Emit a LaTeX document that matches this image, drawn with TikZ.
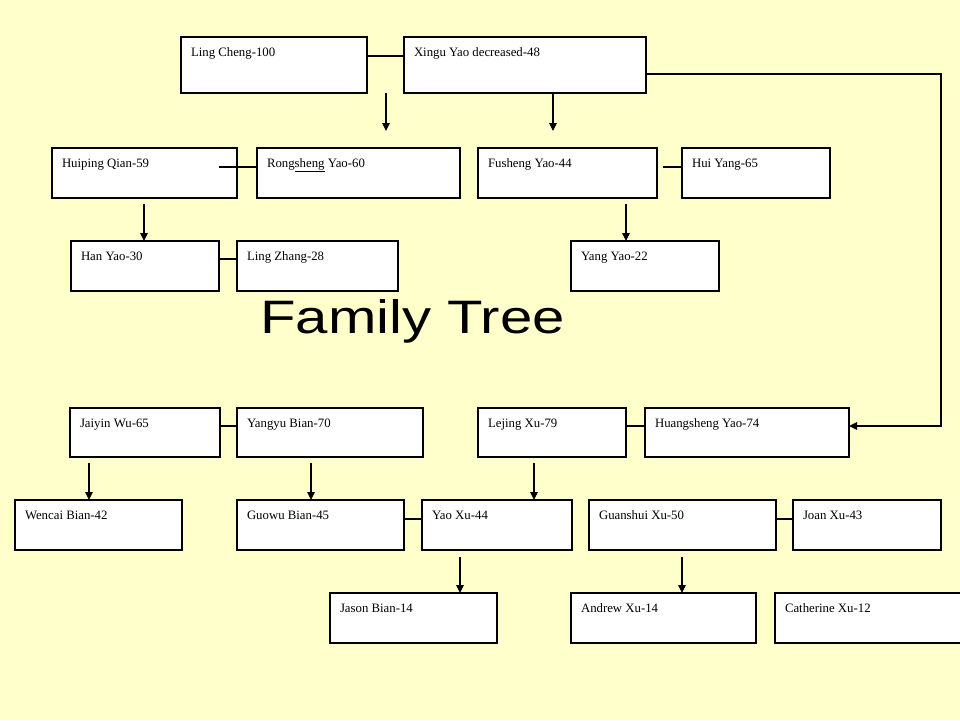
\documentclass[tikz,border=0pt]{standalone}
\usepackage{fontspec}
\setmainfont{Liberation Serif}
\newfontfamily\titlefont{Liberation Sans}
\usetikzlibrary{arrows.meta}
\definecolor{bgyellow}{HTML}{FFFFCC}
\newcommand{\bx}[3]{\parbox[t][#2pt][t]{#1pt}{\fontsize{12.8}{14}\selectfont\hspace*{10pt}\rule{0pt}{19pt}#3}}
\tikzset{
  person/.style={draw=black, fill=white, line width=1.15pt, anchor=north west, inner sep=0pt, outer sep=0pt},
  link/.style={draw=black, line width=1.15pt},
  child/.style={draw=black, line width=1.15pt, -{Triangle[length=8pt,width=7.5pt]}}
}
\begin{document}
\begin{tikzpicture}[x=1pt,y=-1pt]
\fill[bgyellow] (0,0) rectangle (960,720);
\useasboundingbox (0,0) rectangle (960,720);

% row 1
\node[person] (lc) at (181,37) {\bx{186}{56}{Ling Cheng-100}};
\node[person] (xy) at (404,37) {\bx{242}{56}{Xingu Yao decreased-48}};
% row 2
\node[person] (hq) at (52,148) {\bx{185}{50}{Huiping Qian-59}};
\node[person] (ry) at (257,148) {\bx{203}{50}{Rong\underline{sheng} Yao-60}};
\node[person] (fy) at (478,148) {\bx{179}{50}{Fusheng Yao-44}};
\node[person] (hy) at (682,148) {\bx{148}{50}{Hui Yang-65}};
% row 3
\node[person] (hn) at (71,241) {\bx{148}{50}{Han Yao-30}};
\node[person] (lz) at (237,241) {\bx{161}{50}{Ling Zhang-28}};
\node[person] (yy) at (571,241) {\bx{148}{50}{Yang Yao-22}};
% row 4
\node[person] (jw) at (70,408) {\bx{150}{49}{Jaiyin Wu-65}};
\node[person] (yb) at (237,408) {\bx{186}{49}{Yangyu Bian-70}};
\node[person] (lx) at (478,408) {\bx{148}{49}{Lejing Xu-79}};
\node[person] (hs) at (645,408) {\bx{204}{49}{Huangsheng Yao-74}};
% row 5
\node[person] (wb) at (15,500) {\bx{167}{50}{Wencai Bian-42}};
\node[person] (gb) at (237,500) {\bx{167}{50}{Guowu Bian-45}};
\node[person] (yx) at (422,500) {\bx{150}{50}{Yao Xu-44}};
\node[person] (gx) at (589,500) {\bx{187}{50}{Guanshui Xu-50}};
\node[person] (jx) at (793,500) {\bx{148}{50}{Joan Xu-43}};
% row 6
\node[person] (jb) at (330,593) {\bx{167}{50}{Jason Bian-14}};
\node[person] (ax) at (571,593) {\bx{185}{50}{Andrew Xu-14}};
\node[person] (cx) at (775,593) {\bx{200}{50}{Catherine Xu-12}};

% title
\node[anchor=base west, inner sep=0pt] (title) at (260,333)
  {\scalebox{1.264}[1.02]{\titlefont\fontsize{46}{46}\selectfont Family Tree}};

% marriage links
\draw[link] (lc.east |- 0,56) -- (xy.west |- 0,56);
\coordinate (hqc) at (219,167);
\draw[link] (hqc) -- (ry.west |- hqc);
\coordinate (fyc) at (663,167);
\draw[link] (fyc) -- (hy.west |- fyc);
\draw[link] (hn.east |- 0,259) -- (lz.west |- 0,259);
\draw[link] (jw.east |- 0,426) -- (yb.west |- 0,426);
\draw[link] (lx.east |- 0,426) -- (hs.west |- 0,426);
\draw[link] (gb.east |- 0,519) -- (yx.west |- 0,519);
\draw[link] (gx.east |- 0,519) -- (jx.west |- 0,519);

% long link from Xingu Yao to Huangsheng Yao
\coordinate (rt) at (941,74);
\coordinate (rb) at (941,426);
\draw[child] (xy.east |- rt) -- (rt) -- (rb) -- (hs.east |- rb);

% child arrows
\coordinate (a1s) at (386,93);  \coordinate (a1e) at (386,131);
\coordinate (a2s) at (553,93);  \coordinate (a2e) at (553,131);
\coordinate (a3s) at (144,204); \coordinate (a3e) at (144,241);
\coordinate (a4s) at (626,204); \coordinate (a4e) at (626,241);
\coordinate (a5s) at (89,463);  \coordinate (a5e) at (89,500);
\coordinate (a6s) at (311,463); \coordinate (a6e) at (311,500);
\coordinate (a7s) at (534,463); \coordinate (a7e) at (534,500);
\coordinate (a8s) at (460,557); \coordinate (a8e) at (460,593);
\coordinate (a9s) at (682,557); \coordinate (a9e) at (682,593);
\foreach \i in {1,...,9} {\draw[child] (a\i s) -- (a\i e);}
\end{tikzpicture}
\end{document}
